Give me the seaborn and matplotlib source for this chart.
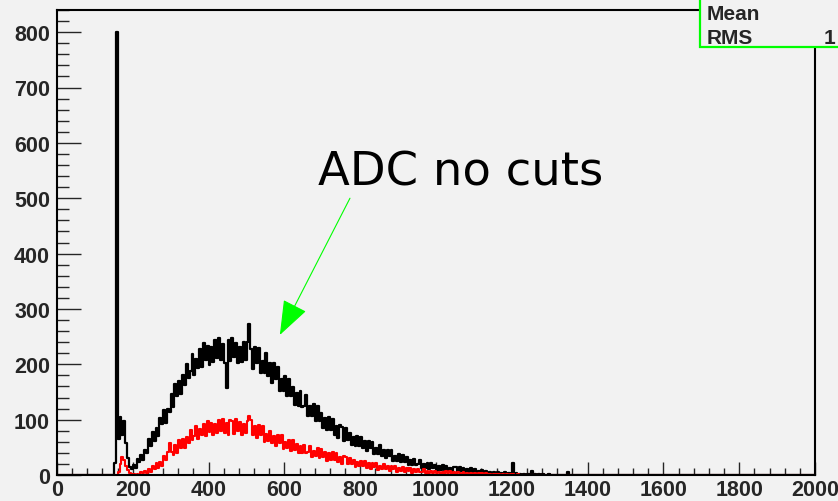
import numpy as np
import pandas as pd
import matplotlib
matplotlib.use("Agg")
import matplotlib.pyplot as plt
from matplotlib.patches import Rectangle
from matplotlib.ticker import MultipleLocator, FixedLocator
import seaborn as sns

# ADC histogram, 5-count bins over 0..2000
bin_width = 5
x_range = (0, 2000)

# counts per bin, all cuts off (black), starting at ADC 150
adc_all_start = 150
adc_all = [
    22, 800, 65, 105, 72, 98, 58, 30, 15, 11, 18, 12, 29, 23, 37, 28, 46, 40, 65, 53,
    78, 62, 85, 70, 103, 93, 118, 94, 120, 113, 146, 123, 164, 143, 170, 146, 180, 162, 201, 176,
    187, 218, 180, 209, 193, 228, 195, 238, 207, 233, 199, 231, 205, 244, 212, 247, 207, 236, 203, 158,
    244, 206, 248, 214, 238, 202, 232, 204, 241, 207, 241, 272, 227, 192, 232, 203, 230, 184, 206, 184,
    221, 179, 202, 167, 202, 174, 196, 152, 173, 152, 178, 142, 174, 142, 159, 127, 149, 125, 152, 123,
    125, 144, 107, 124, 107, 128, 98, 125, 98, 112, 85, 103, 82, 104, 81, 101, 73, 89, 67, 90,
    86, 62, 85, 64, 75, 54, 69, 53, 70, 52, 69, 48, 61, 43, 62, 48, 59, 38, 48, 38,
    54, 34, 46, 31, 46, 34, 45, 26, 35, 26, 38, 23, 37, 24, 32, 18, 28, 18, 29, 18,
    19, 27, 12, 19, 13, 22, 10, 22, 12, 18, 8, 16, 9, 18, 9, 17, 8, 13, 6, 15,
    14, 6, 15, 7, 12, 5, 10, 5, 12, 5, 11, 4, 8, 2, 9, 4, 8, 2, 5, 2,
    6, 2, 5, 1, 4, 2, 5, 1, 3, 1, 22, 1, 3, 0, 2, 0, 2, 0, 2, 1,
    8, 1, 1, 0, 1, 0, 1, 0, 0, 1, 0, 0, 0, 0, 0, 0, 0, 0, 0, 5,
]

# counts per bin after cuts (red), starting at ADC 160
adc_cut_start = 160
adc_cut = [
    6, 20, 33, 27, 17, 9, 4, 2, 1, 0, 2, 0, 6, 3, 7, 3, 10, 6, 17, 11,
    22, 13, 24, 17, 34, 28, 42, 58, 42, 36, 54, 40, 63, 49, 65, 49, 69, 57, 81, 64,
    70, 89, 65, 83, 72, 93, 71, 98, 78, 94, 72, 92, 76, 100, 79, 101, 76, 94, 73, 100,
    98, 74, 101, 80, 95, 73, 93, 75, 98, 106, 99, 73, 89, 67, 91, 73, 88, 60, 74, 61,
    80, 57, 71, 52, 73, 57, 72, 47, 59, 48, 64, 44, 63, 46, 56, 39, 52, 39, 55, 39,
    41, 53, 32, 43, 34, 48, 30, 47, 32, 42, 26, 39, 27, 41, 27, 39, 23, 33, 20, 35,
    33, 19, 31, 20, 27, 15, 24, 16, 26, 16, 25, 13, 21, 11, 22, 14, 22, 9, 16, 11,
    20, 10, 16, 8, 17, 11, 17, 6, 12, 7, 14, 6, 13, 7, 12, 4, 10, 5, 11, 5,
    6, 10, 3, 7, 4, 8, 3, 7, 4, 6, 2, 6, 2, 7, 3, 7, 2, 5, 1, 6,
    4, 2, 5, 1, 4, 1, 3, 1, 4, 2, 4, 1, 3, 0, 3, 1, 2, 0, 2, 1,
    1, 2, 0, 1, 0, 2, 0, 1, 1, 0, 0, 1, 0, 0, 0, 0, 0,
]

x_ticks = list(range(0, 2001, 200))
y_ticks = list(range(0, 801, 100))
annotation_text = "ADC no cuts"
stats_labels = ["Mean", "RMS"]

# full-range weight arrays, one entry per bin centre
n_bins = (x_range[1] - x_range[0]) // bin_width
centers = x_range[0] + bin_width * (np.arange(n_bins) + 0.5)


def full_counts(start, counts):
    w = np.zeros(n_bins)
    i0 = (start - x_range[0]) // bin_width
    w[i0:i0 + len(counts)] = counts
    return w


df_all = pd.DataFrame({"adc": centers, "n": full_counts(adc_all_start, adc_all)})
df_cut = pd.DataFrame({"adc": centers, "n": full_counts(adc_cut_start, adc_cut)})

bg = "#f2f2f2"
sns.set_style("ticks", {"axes.facecolor": bg, "figure.facecolor": bg})
plt.rcParams["font.family"] = ["Liberation Sans", "DejaVu Sans"]

fig = plt.figure(figsize=(8.38, 5.02), dpi=100)
ax = fig.add_axes([57 / 838, 1 - 476 / 502, (815 - 57) / 838, (476 - 11) / 502])

sns.histplot(data=df_all, x="adc", weights="n", binwidth=bin_width, binrange=x_range,
             element="step", fill=False, color="black", linewidth=1.6, ax=ax)
sns.histplot(data=df_cut, x="adc", weights="n", binwidth=bin_width, binrange=x_range,
             element="step", fill=False, color="#ff0000", linewidth=1.5, ax=ax)

ax.set_xlim(*x_range)
ax.set_ylim(0, 840)
ax.set_xlabel("")
ax.set_ylabel("")

ax.xaxis.set_major_locator(FixedLocator(x_ticks))
ax.xaxis.set_minor_locator(MultipleLocator(40))
ax.yaxis.set_major_locator(FixedLocator(y_ticks))
ax.yaxis.set_minor_locator(MultipleLocator(20))
ax.set_xticklabels([str(v) for v in x_ticks])
ax.set_yticklabels([str(v) for v in y_ticks])

ax.tick_params(axis="x", which="major", direction="in", length=9.4, width=1.0, pad=3)
ax.tick_params(axis="x", which="minor", direction="in", length=5.0, width=1.0)
ax.tick_params(axis="y", which="major", direction="in", length=17.3, width=1.0, pad=5)
ax.tick_params(axis="y", which="minor", direction="in", length=8.6, width=1.0)
for lab in ax.get_xticklabels() + ax.get_yticklabels():
    lab.set_fontweight("bold")
    lab.set_fontsize(15.5)

for side in ["left", "right", "top", "bottom"]:
    ax.spines[side].set_visible(True)
    ax.spines[side].set_color("black")
    ax.spines[side].set_linewidth(1.5)

# annotation arrow and label
fig.text(318 / 838, 1 - 186 / 502, annotation_text,
         fontsize=33.5, family="DejaVu Sans", color="black",
         ha="left", va="baseline")
ax.annotate("", xy=(588, 253), xytext=(773, 500), xycoords="data",
            arrowprops=dict(arrowstyle="-|>,head_length=22,head_width=8.2",
                            mutation_scale=1, color="#00ff00", lw=0.8,
                            shrinkA=0, shrinkB=0))

# statistics box in the upper right corner
box = Rectangle((700 / 838, 1 - 48 / 502), 0.3, 0.3, transform=fig.transFigure,
                facecolor=bg, edgecolor="#00ff00", linewidth=1.6, zorder=10,
                clip_on=False)
fig.patches.append(box)
fig.text(707 / 838, 1 - 14 / 502, stats_labels[0], fontsize=15, fontweight="bold",
         ha="left", va="center", zorder=11)
fig.text(707 / 838, 1 - 38 / 502, stats_labels[1], fontsize=15, fontweight="bold",
         ha="left", va="center", zorder=11)
fig.text(824 / 838, 1 - 38 / 502, "1", fontsize=15, fontweight="bold",
         ha="left", va="center", zorder=11)

fig.savefig("out.png", dpi=100, facecolor=bg)
